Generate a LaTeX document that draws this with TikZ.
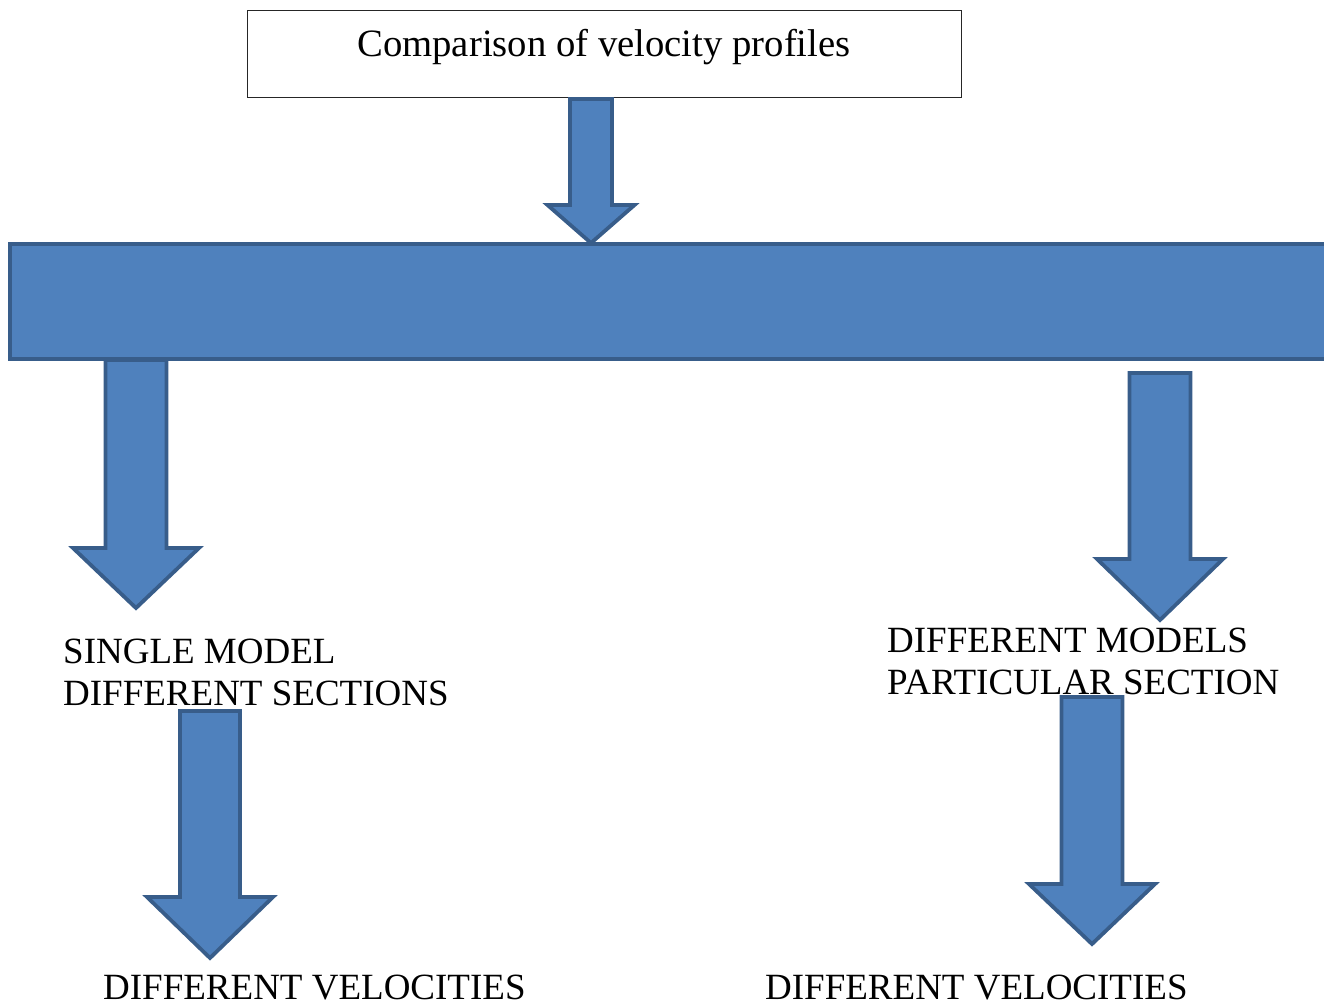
\documentclass[tikz,border=0pt]{standalone}
\usepackage{fontspec}
\setmainfont{Liberation Serif}
\definecolor{arrfill}{HTML}{4F81BD}
\definecolor{arrline}{HTML}{385D8A}
\tikzset{
  blk/.style={fill=arrfill,draw=arrline,line width=3.8pt,line join=miter},
  lbl/.style={anchor=base west,inner sep=0pt,text depth=0pt,font=\fontsize{37}{42}\selectfont},
  titlebox/.style={draw=black!85,line width=1pt,minimum width=714pt,minimum height=87pt,inner sep=0pt}
}
% #1 centre x, #2 half shaft width, #3 half head width, #4 top y, #5 head base y, #6 tip y
\newcommand{\blockarrow}[6]{%
  \draw[blk] (#1-#2,#4) -- (#1+#2,#4) -- (#1+#2,#5) -- (#1+#3,#5) -- (#1,#6)
    -- (#1-#3,#5) -- (#1-#2,#5) -- cycle;}
\begin{document}
\begin{tikzpicture}[x=1pt,y=-1pt]
\useasboundingbox (0,0) rectangle (1324,1004);
\node[titlebox] (title) at (604,53.5) {};
\node[lbl,anchor=base] (titletext) at (604,56) {\fontsize{38.7}{42}\selectfont Comparison of velocity profiles};
% arrows from bar (drawn first, behind bar)
\blockarrow{136}{30.5}{63}{360}{548}{608}
\blockarrow{1160}{30.5}{63}{373}{559}{620}
% top arrow
\blockarrow{591}{21}{43.5}{99}{205}{243}
% bar
\draw[blk] (10,244) rectangle (1326,359);
\node (bar) at (668,301) {};
% lower arrows
\blockarrow{210}{30}{63}{711}{897}{958}
\blockarrow{1092}{30.5}{63}{697}{884}{944}
% texts
\node[lbl] (l1) at (63,663) {SINGLE MODEL};
\node[lbl] (l2) at (63,705) {DIFFERENT SECTIONS};
\node[lbl] (r1) at (887,652) {DIFFERENT MODELS};
\node[lbl] (r2) at (887,694) {PARTICULAR SECTION};
\node[lbl] (lv) at (103,999) {DIFFERENT VELOCITIES};
\node[lbl] (rv) at (765,999) {DIFFERENT VELOCITIES};
\end{tikzpicture}
\end{document}
